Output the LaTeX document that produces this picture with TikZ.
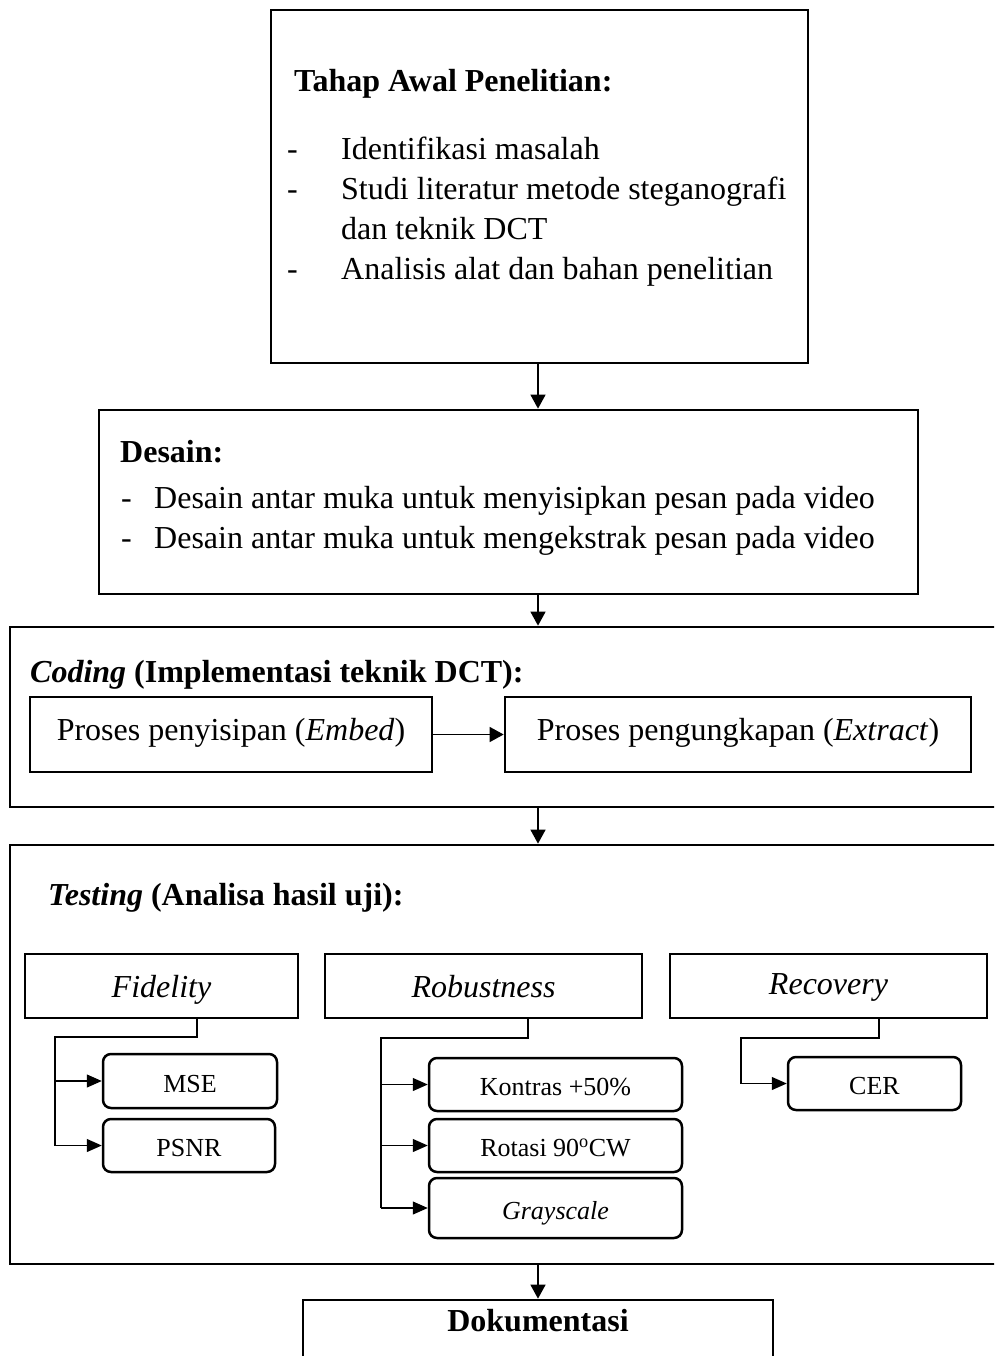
\documentclass[tikz,border=0pt]{standalone}
\usepackage{fontspec}
\setmainfont{Liberation Serif}
\usetikzlibrary{arrows.meta}
\begin{document}
\begin{tikzpicture}[x=1pt,y=-1pt,
  big/.style={draw, line width=2.7pt, inner sep=0pt, font=\fontsize{32}{40}\selectfont},
  lbl/.style={big, text height=22pt, text depth=0pt},
  pbox/.style={big, text height=22pt, text depth=11pt},
  rbox/.style={draw, line width=2.5pt, rounded corners=8pt, inner sep=0pt, text height=22pt, text depth=0pt, font=\fontsize{26}{32}\selectfont},
  txt/.style={inner sep=0pt, anchor=base west, font=\fontsize{32}{40}\selectfont},
  arr/.style={line width=1.4pt, -{Triangle[length=14pt,width=15pt]}},
  sarr/.style={line width=1.3pt, -{Triangle[length=15pt,width=13pt]}},
  conn/.style={line width=1.3pt}]
\useasboundingbox (0,0) rectangle (994,1356);
\clip (0,0) rectangle (994,1356);
\coordinate (ax) at (538,0);

% Top box
\node[big, minimum width=537pt, minimum height=353pt] (top) at (539.5,186.5) {};
\node[txt] (toph) at (294,92) {\bfseries Tahap Awal Penelitian:};
\node[txt] (topl) at (287,160) {\begin{tabular}[t]{@{}p{54pt}@{}l@{}}
- & Identifikasi masalah\\
- & Studi literatur metode steganografi\\
 & dan teknik DCT\\
- & Analisis alat dan bahan penelitian
\end{tabular}};

% Desain
\node[big, minimum width=819pt, minimum height=184pt] (des) at (508.5,502) {};
\node[txt] (desh) at (120,462) {\bfseries Desain:};
\node[txt] (desl) at (121,508) {\begin{tabular}[t]{@{}p{33pt}@{}l@{}}
- & Desain antar muka untuk menyisipkan pesan pada video\\
- & Desain antar muka untuk mengekstrak pesan pada video
\end{tabular}};

% Coding
\node[big, minimum width=1000pt, minimum height=180pt] (cod) at (510,717) {};
\node[txt] (codh) at (30,682) {\textbf{\textit{Coding}} \textbf{(Implementasi teknik DCT):}};
\node[pbox, minimum width=402pt, minimum height=75pt] (emb) at (231,734.5) {Proses penyisipan (\textit{Embed})};
\node[pbox, minimum width=466pt, minimum height=75pt] (ext) at (738,734.5) {Proses pengungkapan (\textit{Extract})};

% Testing
\node[big, minimum width=1000pt, minimum height=419pt] (tes) at (510,1054.5) {};
\node[txt] (tesh) at (48,905) {\textbf{\textit{Testing}} \textbf{(Analisa hasil uji):}};
\node[lbl, minimum width=273pt, minimum height=64pt] (fid) at (161.5,986) {\textit{Fidelity}};
\node[lbl, minimum width=317pt, minimum height=64pt] (rob) at (483.5,986) {\textit{Robustness}};
\node[big, text height=22pt, text depth=6pt, minimum width=317pt, minimum height=64pt] (rec) at (828.5,986) {\textit{Recovery}};

\node[rbox, minimum width=174pt, minimum height=54pt] (mse) at (190,1081) {MSE};
\node[rbox, minimum width=172pt, minimum height=53pt] (psnr) at (189,1145.5) {PSNR};
\node[rbox, minimum width=253pt, minimum height=53pt] (kon) at (555.5,1084.5) {Kontras +50\%};
\node[rbox, minimum width=253pt, minimum height=53pt] (rot) at (555.5,1145.5) {Rotasi 90\textsuperscript{o}CW};
\node[rbox, minimum width=253pt, minimum height=60pt] (gray) at (555.5,1208) {\textit{Grayscale}};
\node[rbox, minimum width=173pt, minimum height=53pt] (cer) at (874.5,1083.5) {CER};

% Dokumentasi
\node[big, minimum width=470pt, minimum height=80pt] (dok) at (538,1340) {};
\node[inner sep=0pt, anchor=base, font=\fontsize{32}{40}\selectfont] (dokt) at (538,1331) {\bfseries Dokumentasi};

% main arrows
\draw[arr] (top.south -| ax) -- (des.north -| ax);
\draw[arr] (des.south -| ax) -- (cod.north -| ax);
\draw[arr] (cod.south -| ax) -- (tes.north -| ax);
\draw[arr] (tes.south -| ax) -- (dok.north -| ax);
\draw[arr] (emb.east) -- (ext.west);

% Fidelity branch
\coordinate (fa) at (197,1037);
\coordinate (fb) at (55,1037);
\draw[conn] (fid.south -| fa) -- (fa) -- (fb) -- (fb |- psnr.west);
\draw[sarr] (fb |- mse.west) -- (mse.west);
\draw[sarr] (fb |- psnr.west) -- (psnr.west);

% Robustness branch
\coordinate (ra) at (528,1038);
\coordinate (rb) at (381,1038);
\draw[conn] (rob.south -| ra) -- (ra) -- (rb) -- (rb |- gray.west);
\draw[sarr] (rb |- kon.west) -- (kon.west);
\draw[sarr] (rb |- rot.west) -- (rot.west);
\draw[sarr] (rb |- gray.west) -- (gray.west);

% Recovery branch
\coordinate (ca) at (879,1038);
\coordinate (cb) at (741,1038);
\draw[conn] (rec.south -| ca) -- (ca) -- (cb) -- (cb |- cer.west);
\draw[sarr] (cb |- cer.west) -- (cer.west);
\end{tikzpicture}
\end{document}
